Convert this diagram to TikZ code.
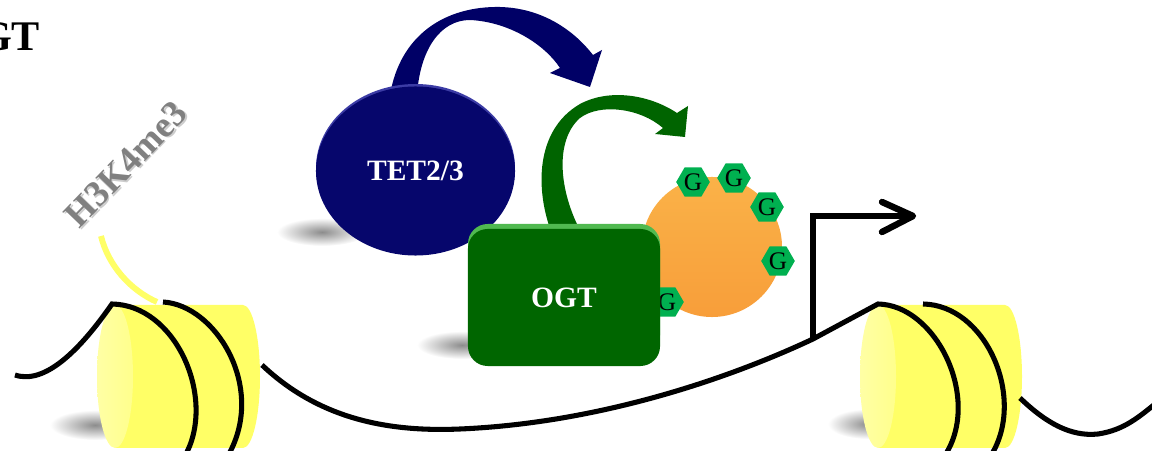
\documentclass[tikz,border=0pt]{standalone}
\usepackage{fontspec}
\setmainfont{Liberation Serif}
\usetikzlibrary{shapes.geometric,shapes.misc,calc,scopes}

\definecolor{tetblue}{RGB}{6,6,108}
\definecolor{tetrim}{RGB}{60,60,165}
\definecolor{arrowblue}{RGB}{0,0,102}
\definecolor{ogtgreen}{RGB}{0,102,0}
\definecolor{ogtrim}{RGB}{80,185,80}
\definecolor{arrowgreen}{RGB}{0,100,0}
\definecolor{substrate}{RGB}{248,158,58}
\definecolor{substratetop}{RGB}{250,178,72}
\definecolor{glcnac}{RGB}{0,176,80}
\definecolor{histone}{RGB}{255,255,102}
\definecolor{histoneface}{RGB}{255,255,165}
\definecolor{markgray}{RGB}{128,128,128}

% one nucleosome core: #1 = x of the front face, #2 = x of the back face
\newcommand{\histonecore}[2]{%
  \fill[histone] (#1,305) -- (#2,305)
    arc[start angle=-90, end angle=90, x radius=17, y radius=71.5]
    -- (#1,448) -- cycle;
  \shade[left color=histoneface, right color=histoneface!60!histone]
    (#1,376.5) ellipse[x radius=18, y radius=71.5];
}

\begin{document}
\begin{tikzpicture}
  [
  x=0.025cm, y=-0.025cm,
  dna/.style={draw=black,line width=3.6pt},
  promoter/.style={draw=black,line width=4.6pt},
  tail/.style={draw=histone,line width=4.2pt},
  castshadow/.style={inner color=black!45,outer color=white},
  protname/.style={text=white,font=\bfseries\fontsize{21}{24}\selectfont},
  sugar/.style={regular polygon,regular polygon sides=6,fill=glcnac,minimum size=0.84cm,
    inner sep=0pt,font=\fontsize{18}{20}\selectfont},
  ]
  \useasboundingbox (0,0) rectangle (1152,451);

  % soft shadows on the floor
  \shade[castshadow] (95,425) ellipse[x radius=45, y radius=15];
  \shade[castshadow] (868,424) ellipse[x radius=40, y radius=15];
  \shade[castshadow] (322,232) ellipse[x radius=45, y radius=14];
  \shade[castshadow] (462,345) ellipse[x radius=45, y radius=14];

  \node[anchor=base east,font=\bfseries\fontsize{30}{33}\selectfont] (title) at (45,51) {GT};

  % histone tail and its mark
  \node[rotate=46,text=black!20,font=\bfseries\fontsize{26}{30}\selectfont] at (127.5,165.5) {H3K4me3};
  \node[rotate=46,text=markgray,font=\bfseries\fontsize{26}{30}\selectfont] (mark) at (126,164) {H3K4me3};
  \draw[tail] (101,236) .. controls (108,265) and (130,290) .. (157,302);

  \histonecore{115}{243}
  \histonecore{878}{1005}

  % DNA, two turns round each core
  \coordinate (tss) at (813,339);
  {[dna]
    \draw (15,375) .. controls (45,385) and (80,350) .. (112,304)
      .. controls (175,305) and (215,395) .. (187,452);
    \draw (163,302) .. controls (215,305) and (265,385) .. (230,452);
    \draw (262,365) .. controls (320,420) and (390,432) .. (460,429)
      .. controls (600,423) and (730,378) .. (tss) -- (878,304)
      .. controls (935,305) and (980,395) .. (947,452);
    \draw (923,304) .. controls (985,305) and (1025,395) .. (993,452);
    \draw (1020,398) .. controls (1045,422) and (1070,437) .. (1098,434)
      .. controls (1125,430) and (1140,416) .. (1160,400);
  }

  % transcription start
  \coordinate (tsshead) at (913,216);
  \draw[promoter] (tss) |- ($(tsshead)+(-3,0)$);
  \draw[promoter,line cap=round,line join=round]
    ($(tsshead)+(-31,-14)$) -- (tsshead) -- ($(tsshead)+(-31,16)$);

  % TET2/3 and its arrow
  \fill[arrowblue] (390,95) .. controls (400,35) and (445,6) .. (500,7)
    .. controls (540,8) and (572,28) .. (593,55)
    -- (602,50) -- (590,87) -- (550,73) -- (560,68)
    .. controls (545,45) and (510,22) .. (470,20)
    .. controls (440,20) and (420,50) .. (417,95) -- cycle;
  \fill[tetrim] (415.5,168) ellipse[x radius=99.5, y radius=84];
  \node[ellipse,fill=tetblue,minimum width=4.975cm,minimum height=4.225cm,
    inner sep=0pt,protname] (tet) at (415.5,171) {TET2/3};

  % glycosylated substrate
  \node[circle,minimum size=3.5cm,inner sep=0pt,top color=substratetop,
    middle color=substrate,bottom color=substrate] (substrate) at (712,247) {};
  \foreach \gpos [count=\i] in {(693,182),(734,178),(767,207),(778,261),(667,302)}
    \node[sugar] (g\i) at \gpos {G};

  % OGT and its arrow
  \fill[arrowgreen] (552,234) .. controls (535,190) and (535,130) .. (580,104)
    .. controls (610,88) and (650,95) .. (677,113)
    -- (688,106) -- (685,137) -- (655,134) -- (663,128)
    .. controls (640,108) and (600,103) .. (580,118)
    .. controls (555,140) and (558,190) .. (582,234) -- cycle;
  \fill[ogtrim,rounded corners=14pt] (468,224) rectangle (660,355);
  \node[rectangle,rounded corners=14pt,fill=ogtgreen,minimum width=4.8cm,
    minimum height=3.425cm,protname] (ogt) at (564,297.5) {OGT};
\end{tikzpicture}
\end{document}
